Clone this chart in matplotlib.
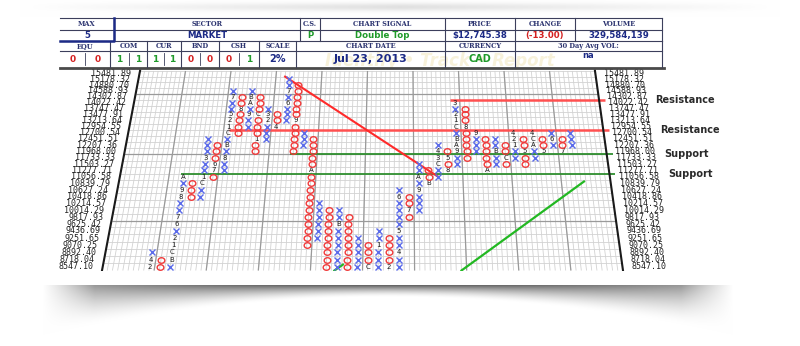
import numpy as np
import matplotlib
matplotlib.use('Agg')
import matplotlib.pyplot as plt
import matplotlib.transforms as mtransforms
from matplotlib.collections import LineCollection
from matplotlib.path import Path

# box prices (2% scale), top row first
prices = [15481.89, 15178.32, 14880.70, 14588.93, 14302.87, 14022.42, 13747.47,
          13477.91, 13213.64, 12954.55, 12700.54, 12451.51, 12207.36, 11968.00,
          11733.33, 11503.27, 11277.71, 11056.58, 10839.79, 10627.24, 10418.86,
          10214.57, 10014.29, 9817.93, 9625.42, 9436.69, 9251.65, 9070.25,
          8892.40, 8718.04, 8547.10]

# point & figure columns: index, kind, top box row, bottom box row
col_pos = list(range(4, 47))
col_kind = ['X' if c % 2 == 0 else 'O' for c in col_pos]
col_top = [28, 29, 17, 18, 11, 12, 3, 4, 3, 4, 6, 7, 1, 2, 10, 11, 21, 22, 22, 23,
           26, 27, 25, 26, 19, 20, 15, 16, 12, 13, 5, 6, 10, 11, 11, 12, 10, 11,
           10, 11, 10, 11, 10]
col_bottom = [30, 30, 30, 20, 20, 17, 16, 10, 9, 13, 11, 9, 8, 13, 12, 27, 26, 30,
              30, 30, 30, 30, 30, 30, 30, 23, 22, 18, 17, 16, 15, 14, 13, 16, 15,
              15, 14, 15, 14, 13, 12, 13, 12]

# month markers (column, row, month code)
month_marks = [
    (4, 29, '4'), (4, 30, '2'),
    (6, 17, 'A'), (6, 19, '9'), (6, 20, '8'), (6, 23, '7'), (6, 24, '6'),
    (6, 26, '2'), (6, 27, '1'), (6, 28, 'C'), (6, 29, 'B'),
    (8, 18, 'C'), (8, 17, '1'), (8, 14, '3'),
    (9, 15, '6'), (9, 16, '7'),
    (10, 14, '8'), (10, 12, 'B'), (10, 10, 'C'), (10, 9, '1'), (10, 8, '2'),
    (10, 7, '5'), (10, 4, '7'),
    (11, 6, '8'),
    (12, 4, 'B'), (12, 5, 'A'), (12, 7, '9'),
    (13, 7, 'C'), (13, 11, '1'),
    (14, 8, '2'), (14, 7, '3'),
    (15, 9, '4'),
    (16, 5, '6'), (16, 3, '7'),
    (17, 8, '9'),
    (19, 16, 'A'),
    (22, 24, 'B'),
    (25, 30, 'C'),
    (26, 27, '1'), (27, 30, '2'),
    (28, 28, '4'), (28, 25, '5'), (28, 20, '6'),
    (29, 22, '7'),
    (30, 19, '9'), (30, 17, 'A'),
    (31, 18, 'B'),
    (32, 15, 'C'), (32, 14, '3'), (32, 13, '4'),
    (33, 14, '5'), (33, 16, '8'),
    (34, 13, '9'), (34, 12, 'A'), (34, 11, 'B'), (34, 9, 'C'), (34, 8, '1'),
    (34, 7, '2'), (34, 5, '3'),
    (35, 9, '8'),
    (36, 10, '9'),
    (37, 16, 'A'),
    (38, 13, 'B'),
    (39, 14, 'C'),
    (40, 12, '1'), (40, 11, '2'), (40, 10, '4'),
    (41, 13, '5'),
    (42, 12, 'A'), (42, 11, 'C'), (42, 10, '4'),
    (43, 13, '5'),
    (44, 11, '6'),
    (45, 13, '7'),
]

# horizontal levels (row boundary, first column) and their labels
level_rows = [4.5, 9.5, 13.5, 16.5]
level_start = [34.0, 10.6, 17.2, 6.2]
level_names = ['Resistance', 'Resistance', 'Support', 'Support']
level_colors = ['#ff5050', '#ff5050', '#2f8f2f', '#2f8f2f']

# trend lines in box units (column edge, row)
bear_line = ([16.0, 32.5], [0.5, 17.0])
bull_line = ([34.5, 47.3], [30.5, 17.7])
bull_stub = ([22.3, 23.1], [30.5, 29.7])

# header table
top_labels = ['MAX', 'SECTOR', 'C.S.', 'CHART SIGNAL', 'PRICE', 'CHANGE', 'VOLUME']
top_values = ['5', 'MARKET', 'P', 'Double Top', '$12,745.38', '(-13.00)', '329,584,139']
low_labels = ['EQU', 'COM', 'CUR', 'BND', 'CSH', 'SCALE', 'CHART DATE', 'CURRENCY',
              '30 Day Avg VOL:']
rs_values = [(0, 0), (1, 1), (1, 1), (0, 0), (0, 1)]
low_values = ['2%', 'Jul 23, 2013', 'CAD', 'na']

NAVY = '#1c2a86'
GREEN = '#1f9a2a'
RED = '#d42020'
NCOLS = 50


def homography(src, dst):
    A, b = [], []
    for (u, v), (x, y) in zip(src, dst):
        A.append([u, v, 1, 0, 0, 0, -u * x, -v * x])
        b.append(x)
        A.append([0, 0, 0, u, v, 1, -u * y, -v * y])
        b.append(y)
    h = np.linalg.solve(np.array(A, float), np.array(b, float))
    return np.append(h, 1.0).reshape(3, 3)


class Keystone(mtransforms.Transform):
    # tilted-page projection of the box grid onto the picture
    input_dims = 2
    output_dims = 2
    is_separable = False
    has_inverse = False

    def __init__(self, H):
        super().__init__()
        self.H = H

    def transform_non_affine(self, values):
        values = np.asarray(values, dtype=float).reshape(-1, 2)
        p = values @ self.H[:, :2].T + self.H[:, 2]
        return p[:, :2] / p[:, 2:3]


fig = plt.figure(figsize=(8, 3.46), dpi=100)
ax = fig.add_axes([0, 0, 1, 1])
ax.set_autoscale_on(False)
ax.set_xlim(0, 800)
ax.set_ylim(346, 0)
ax.axis('off')

H = homography([(0, -0.5), (NCOLS, -0.5), (NCOLS, 30.5), (0, 30.5)],
               [(140, 71), (595, 71), (623, 270.5), (102, 270.5)])
grid = Keystone(H) + ax.transData

# grid
minor = [[(u, -0.5), (u, 30.5)] for u in np.arange(0, NCOLS + 0.01, 0.5)]
minor += [[(0, v), (NCOLS, v)] for v in np.arange(-0.5, 30.6, 1.0)]
ax.add_collection(LineCollection(minor, colors='#d2d2d2', linewidths=0.6,
                                 transform=grid, zorder=1))
major = [[(u, -0.5), (u, 30.5)] for u in range(5, NCOLS, 5)]
major += [[(0, v), (NCOLS, v)] for v in (3.5, 13.5, 23.5)]
ax.add_collection(LineCollection(major, colors='#9a9a9a', linewidths=0.9,
                                 transform=grid, zorder=1.2))
edges = [[(0, -0.8), (0, 30.6)], [(NCOLS, -0.8), (NCOLS, 30.6)]]
ax.add_collection(LineCollection(edges, colors='#1a1a1a', linewidths=1.5,
                                 transform=grid, zorder=3))

# price scale on both sides
for r, p in enumerate(prices):
    ax.text(-0.9, r, f'{p:.2f}', transform=grid, ha='right', va='center',
            fontsize=6.0, family='DejaVu Sans Mono', color='#222222')
    ax.text(NCOLS + 0.9, r, f'{p:.2f}', transform=grid, ha='left', va='center',
            fontsize=6.0, family='DejaVu Sans Mono', color='#222222')

# support / resistance
for row, start, name, color in zip(level_rows, level_start, level_names, level_colors):
    lw = 1.8 if name == 'Resistance' else 1.3
    ax.plot([start, NCOLS + 0.6], [row, row], transform=grid, color=color, lw=lw,
            zorder=2, solid_capstyle='butt')
    ax.text(56.0, row, name, transform=grid, ha='left', va='center', fontsize=7,
            fontweight='bold', color='#2a2a2a')

ax.plot(*bear_line, transform=grid, color='#ff2a2a', lw=1.5, zorder=2)
ax.plot(*bull_line, transform=grid, color='#22b822', lw=1.6, zorder=2)
ax.plot(*bull_stub, transform=grid, color='#22b822', lw=1.6, zorder=2)

# boxes
marks = {(c, r): m for c, r, m in month_marks}
xu, xv, ou, ov = [], [], [], []
for c, k, t, b in zip(col_pos, col_kind, col_top, col_bottom):
    for r in range(t, b + 1):
        if (c, r) in marks:
            ax.text(c + 0.5, r, marks[(c, r)], transform=grid, ha='center',
                    va='center', fontsize=5.0, color='#1e1e1e', zorder=4)
        elif k == 'X':
            xu.append(c + 0.5)
            xv.append(r)
        else:
            ou.append(c + 0.5)
            ov.append(r)

circ = Path.unit_circle()
o_marker = Path(circ.vertices * np.array([1.2, 1.0]), circ.codes)
ax.plot(xu, xv, ls='none', marker='x', ms=4.0, mew=1.0, color='#5b6bea',
        transform=grid, zorder=4)
ax.plot(ou, ov, ls='none', marker=o_marker, ms=4.8, mew=1.0, mfc='none',
        mec='#f03a3a', transform=grid, zorder=4)

# header table
ty = [18, 30, 41, 51, 67]
top_x = [60, 114, 300, 320, 445, 515, 575, 662]
low_x = [60, 110, 147, 181, 219, 259, 296, 445, 515, 662]
line_kw = dict(color='#3c3f5c', lw=0.8, zorder=5)
for y in ty[:-1]:
    ax.plot([60, 662], [y, y], **line_kw)
ax.plot([60, 664], [67.5, 67.5], color='#4a4a4a', lw=2.0, zorder=5)
for x in top_x[1:]:
    ax.plot([x, x], [ty[0], ty[2]], **line_kw)
for x in low_x[1:]:
    ax.plot([x, x], [ty[2], ty[4]], **line_kw)
ax.plot([60, 114, 114], [41, 41, 18], color=NAVY, lw=1.8, zorder=6)

ax.text(440, 61, 'Identify \u2022 Track \u2022 Report', ha='center', va='center',
        fontsize=12, fontweight='bold', style='italic', color='#f1e6bc',
        alpha=0.55, zorder=0.5)

hdr_kw = dict(ha='center', va='center', fontsize=4.8, fontweight='bold',
              family='DejaVu Serif', color='#2c3470', zorder=6)
top_colors = [NAVY, NAVY, GREEN, GREEN, NAVY, RED, NAVY]
for i, (lab, val, col) in enumerate(zip(top_labels, top_values, top_colors)):
    xc = (top_x[i] + top_x[i + 1]) / 2
    ax.text(xc, 24, lab, **hdr_kw)
    ax.text(xc, 35.5, val, ha='center', va='center', fontsize=6.2,
            fontweight='bold', color=col, zorder=6)
for i, lab in enumerate(low_labels):
    xc = (low_x[i] + low_x[i + 1]) / 2
    ax.text(xc, 46, lab, **hdr_kw)
for i, pair in enumerate(rs_values):
    x0, x1 = low_x[i], low_x[i + 1]
    xm = (x0 + x1) / 2
    ax.plot([xm, xm], [53, 65], color='#3c3f5c', lw=0.6, zorder=5)
    for j, v in enumerate(pair):
        ax.text((x0 + xm) / 2 if j == 0 else (xm + x1) / 2, 59, str(v),
                ha='center', va='center', fontsize=6.5, fontweight='bold',
                color=GREEN if v else RED, zorder=6)
low_colors = [NAVY, NAVY, GREEN, NAVY]
low_sizes = [7, 8, 7, 6]
low_y = [59, 58.5, 58.5, 55]
for i, (val, col, fs, y) in enumerate(zip(low_values, low_colors, low_sizes, low_y)):
    xc = (low_x[5 + i] + low_x[6 + i]) / 2
    ax.text(xc, y, val, ha='center', va='center', fontsize=fs, fontweight='bold',
            color=col, zorder=6)

# page edge and curled shadow underneath
yy, xx = np.mgrid[271:346, 0:800] + 0.5
xn = (xx - 388) / 345
depth = 12 + 38 * xn ** 2
strength = 0.8 * (1 - 0.5 * xn ** 2) * np.clip((1 - np.abs(xn)) / 0.15, 0, 1)
d = (yy - 285) / depth
alpha = np.where(d >= 0, strength * np.clip(1 - d, 0, 1) ** 1.6, 0)
alpha = np.where(np.abs(xn) < 1, alpha, 0)
shade = np.dstack([1 - 0.8 * alpha] * 3)
ax.imshow(shade, extent=(0, 800, 346, 271), aspect='auto', zorder=10,
          interpolation='bilinear')

yy, xx = np.mgrid[0:17, 0:800] + 0.5
top_a = 0.12 * np.exp(-((yy - 7) / 4) ** 2) * np.clip(1 - np.abs(xx - 400) / 380, 0, 1)
ax.imshow(np.dstack([1 - top_a] * 3), extent=(0, 800, 17, 0), aspect='auto',
          zorder=0.2, interpolation='bilinear')

ax.set_xlim(0, 800)
ax.set_ylim(346, 0)
fig.savefig('out.png', dpi=100, facecolor='white')
